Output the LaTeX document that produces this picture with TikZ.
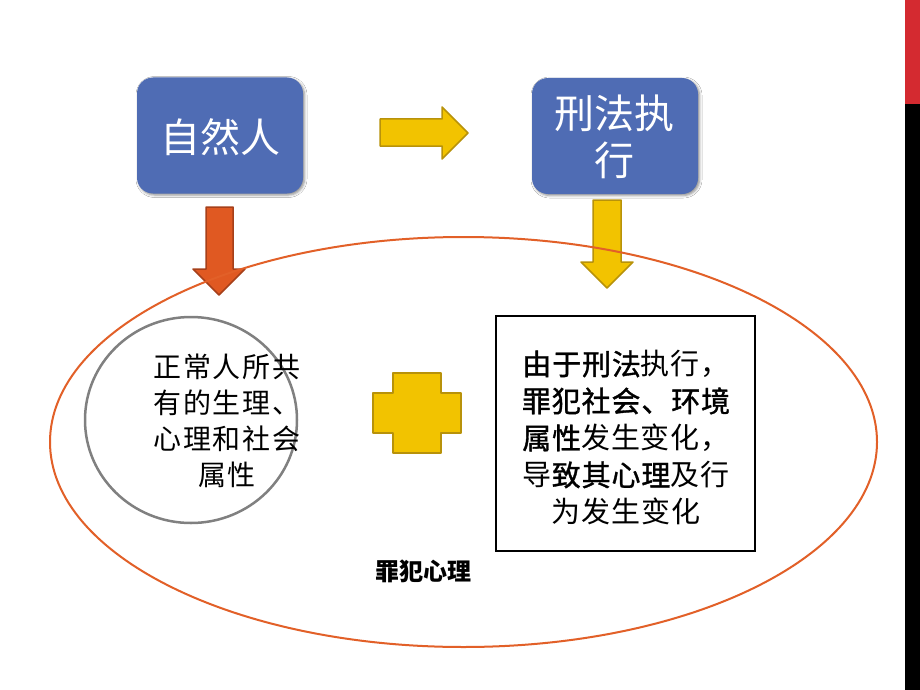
\documentclass[tikz,border=0pt]{standalone}
\usepackage{fontspec}
\newfontfamily\cjk{Noto Sans CJK SC}
\newfontfamily\cjkheavy[FakeBold=1.2]{Noto Sans CJK SC}
\usetikzlibrary{shadows.blur,shapes.geometric}
\definecolor{boxblue}{RGB}{79,108,180}
\definecolor{arrowyellow}{RGB}{242,195,0}
\definecolor{arrowyellowdark}{RGB}{184,146,10}
\definecolor{arroworange}{RGB}{224,89,34}
\definecolor{arroworangedark}{RGB}{166,64,26}
\definecolor{ringorange}{RGB}{226,96,40}
\definecolor{ringgray}{RGB}{128,128,128}
\definecolor{barred}{RGB}{212,42,48}
\newcommand{\hv}[1]{{\cjkheavy\addfontfeature{LetterSpace=3}#1}}
\begin{document}
\begin{tikzpicture}[x=1pt,y=-1pt,
  bluebox/.style={fill=boxblue, rounded corners=16pt, minimum width=166pt, minimum height=116pt,
    inner sep=0pt, blur shadow={shadow xshift=1.5pt, shadow yshift=-1.5pt, shadow blur radius=2.5pt, shadow opacity=45}},
  bluetext/.style={text=white, font=\cjk\fontsize{40}{47}\selectfont, align=center, inner sep=0pt},
  yellowarrow/.style={fill=arrowyellow, draw=arrowyellowdark, line width=1.5pt, line join=round},
  orangearrow/.style={fill=arroworange, draw=arroworangedark, line width=1.5pt, line join=round},
  ring/.style={ellipse, draw=ringorange, line width=2pt, inner sep=0pt},
  grayring/.style={ellipse, draw=ringgray, line width=2.5pt, inner sep=0pt},
  plainbox/.style={draw=black, line width=2pt, inner sep=0pt},
  bodytext/.style={font=\cjk\fontsize{28}{36}\selectfont\addfontfeature{LetterSpace=6}, align=center, inner sep=0pt},
  boxtext/.style={font=\cjk\fontsize{29}{37}\selectfont\addfontfeature{LetterSpace=3}, align=center, inner sep=0pt},
  labeltext/.style={font=\cjk\bfseries\fontsize{24}{28}\selectfont, inner sep=0pt}
]
\useasboundingbox (0,0) rectangle (920,690);
\fill[white] (0,0) rectangle (920,690);

% top boxes
\node[bluebox] (nat) at (220,135.5) {};
\node[bluetext] (natt) at (220,137) {自然人};
\node[bluebox] (exe) at (615,136) {};
\node[bluetext] (exet) at (614,137) {刑法执\\行};

% block arrows
\draw[yellowarrow] (380,119) -- (442,119) -- (442,107) -- (468,133) -- (442,159) -- (442,146) -- (380,146) -- cycle;
\draw[orangearrow] (206,207) -- (233,207) -- (233,269) -- (245,269) -- (219,295) -- (193,269) -- (206,269) -- cycle;
\draw[yellowarrow] (593,200) -- (621,200) -- (621,262) -- (633,262) -- (607,288) -- (581,262) -- (593,262) -- cycle;

% big ring
\node[ring, minimum width=827pt, minimum height=410pt] (big) at (463.5,442) {};

% left ellipse
\node[grayring, minimum width=212pt, minimum height=206pt] (left) at (191,420) {};
\node[bodytext] (leftt) at (227,421) {正常人所共\\有的生理、\\心理和社会\\属性};

% plus sign
\draw[yellowarrow] (393,373) -- (441,373) -- (441,393) -- (461,393) -- (461,433) -- (441,433) -- (441,453) -- (393,453) -- (393,433) -- (373,433) -- (373,393) -- (393,393) -- cycle;

% right box
\node[plainbox, minimum width=259pt, minimum height=235pt] (right) at (625.5,433.5) {};
\node[boxtext] (rightt) at (626,438) {\hv{由于刑法}执行，\\\hv{罪犯社会、环境}\\\hv{属性}发生变化，\\导\hv{致其心理}及行\\为发生变化};

% label
\node[labeltext] (lab) at (423,571) {罪犯心理};

% right edge bars
\fill[barred] (905,0) rectangle (920,104);
\fill[black] (905,104) rectangle (920,690);
\end{tikzpicture}
\end{document}
